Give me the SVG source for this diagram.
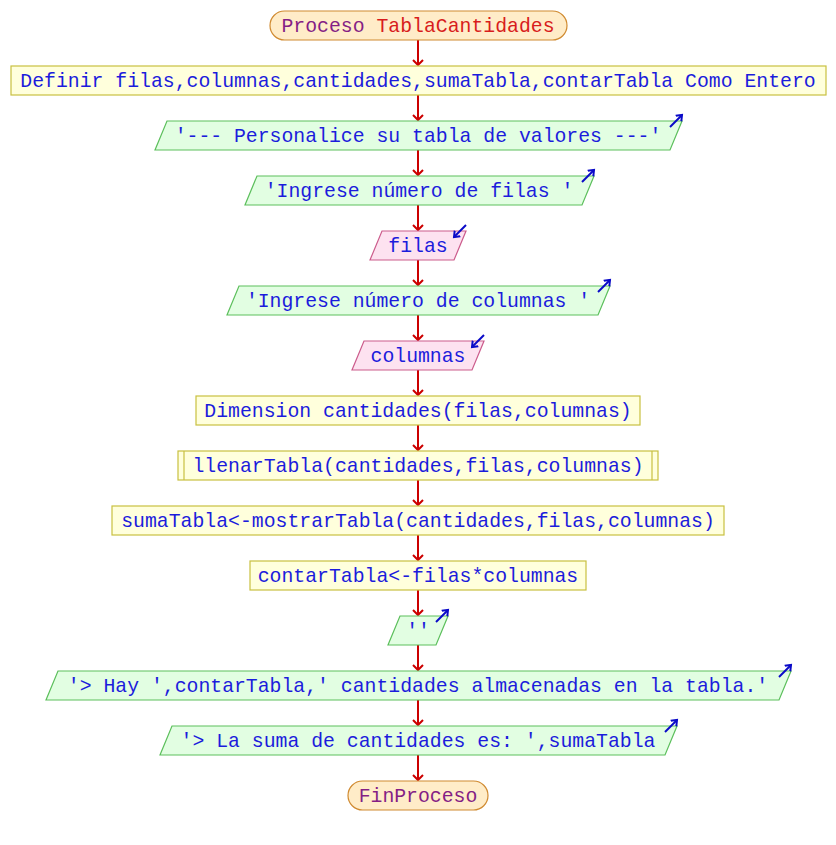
<svg xmlns="http://www.w3.org/2000/svg" width="836" height="845" viewBox="0 0 836 845">
<defs>
<style>
text{font-family:"Liberation Mono","Courier New",monospace;font-size:19.8px;fill:#1c1cdc;text-anchor:middle}
.kw{fill:#851e85}
.nm{fill:#d81c1c}
.term{fill:#ffecc8;stroke:#d08a30;stroke-width:1.2}
.proc{fill:#ffffdc;stroke:#c8c040;stroke-width:1.2}
.out{fill:#e2fee2;stroke:#5cbf5c;stroke-width:1.2}
.in{fill:#fde2f0;stroke:#cc5c8c;stroke-width:1.2}
.io{stroke:#0a0ac8;stroke-width:2;fill:none}
.con{stroke:#cc0000;stroke-width:2;fill:none}
</style>
<marker id="ah" viewBox="0 0 12 12" refX="6" refY="6" markerWidth="12" markerHeight="12" markerUnits="userSpaceOnUse" orient="auto">
<path d="M1,1 L6,6 L1,11" stroke="#cc0000" stroke-width="2" fill="none"/>
</marker>
<marker id="ab" viewBox="0 0 10 10" refX="5" refY="5" markerWidth="10" markerHeight="10" markerUnits="userSpaceOnUse" orient="auto">
<path d="M0,1 L5,5 L0,9" stroke="#0a0ac8" stroke-width="2" fill="none"/>
</marker>
</defs>
<rect width="836" height="845" fill="#ffffff"/>
<g id="connectors">
<line class="con" x1="418" y1="40" x2="418" y2="65" marker-end="url(#ah)"/>
<line class="con" x1="418" y1="95" x2="418" y2="120" marker-end="url(#ah)"/>
<line class="con" x1="418" y1="150" x2="418" y2="175" marker-end="url(#ah)"/>
<line class="con" x1="418" y1="205" x2="418" y2="230" marker-end="url(#ah)"/>
<line class="con" x1="418" y1="260" x2="418" y2="285" marker-end="url(#ah)"/>
<line class="con" x1="418" y1="315" x2="418" y2="340" marker-end="url(#ah)"/>
<line class="con" x1="418" y1="370" x2="418" y2="395" marker-end="url(#ah)"/>
<line class="con" x1="418" y1="425" x2="418" y2="450" marker-end="url(#ah)"/>
<line class="con" x1="418" y1="480" x2="418" y2="505" marker-end="url(#ah)"/>
<line class="con" x1="418" y1="535" x2="418" y2="560" marker-end="url(#ah)"/>
<line class="con" x1="418" y1="590" x2="418" y2="615" marker-end="url(#ah)"/>
<line class="con" x1="418" y1="645" x2="418" y2="670" marker-end="url(#ah)"/>
<line class="con" x1="418" y1="700" x2="418" y2="725" marker-end="url(#ah)"/>
<line class="con" x1="418" y1="755" x2="418" y2="780" marker-end="url(#ah)"/>
</g>
<g id="n_start">
<rect class="term" x="270" y="11" width="297" height="29" rx="14.5" ry="14.5"/>
<text x="418" y="32"><tspan class="kw">Proceso </tspan><tspan class="nm">TablaCantidades</tspan></text>
</g>
<g id="n_definir">
<rect class="proc" x="11" y="66" width="815" height="29"/>
<text x="418" y="87">Definir filas,columnas,cantidades,sumaTabla,contarTabla Como Entero</text>
</g>
<g id="n_out1">
<polygon class="out" points="167,121 682,121 670,150 155,150"/>
<text x="418" y="142">'--- Personalice su tabla de valores ---'</text>
<line class="io" x1="670" y1="127" x2="682" y2="115" marker-end="url(#ab)"/>
</g>
<g id="n_out2">
<polygon class="out" points="257,176 594,176 582,205 245,205"/>
<text x="419" y="197">'Ingrese número de filas '</text>
<line class="io" x1="582" y1="182" x2="594" y2="170" marker-end="url(#ab)"/>
</g>
<g id="n_in1">
<polygon class="in" points="382,231 466,231 454,260 370,260"/>
<text x="418" y="252">filas</text>
<line class="io" x1="466" y1="225" x2="454" y2="237" marker-end="url(#ab)"/>
</g>
<g id="n_out3">
<polygon class="out" points="239,286 610,286 598,315 227,315"/>
<text x="418" y="307">'Ingrese número de columnas '</text>
<line class="io" x1="598" y1="292" x2="610" y2="280" marker-end="url(#ab)"/>
</g>
<g id="n_in2">
<polygon class="in" points="364,341 484,341 472,370 352,370"/>
<text x="418" y="362">columnas</text>
<line class="io" x1="484" y1="335" x2="472" y2="347" marker-end="url(#ab)"/>
</g>
<g id="n_dim">
<rect class="proc" x="196" y="396" width="444" height="29"/>
<text x="418" y="417">Dimension cantidades(filas,columnas)</text>
</g>
<g id="n_llenar">
<rect class="proc" x="178" y="451" width="480" height="29"/>
<line x1="184" y1="451" x2="184" y2="480" stroke="#c8c040" stroke-width="1.2"/>
<line x1="652" y1="451" x2="652" y2="480" stroke="#c8c040" stroke-width="1.2"/>
<text x="418" y="472">llenarTabla(cantidades,filas,columnas)</text>
</g>
<g id="n_suma">
<rect class="proc" x="112" y="506" width="612" height="29"/>
<text x="418" y="527">sumaTabla&lt;-mostrarTabla(cantidades,filas,columnas)</text>
</g>
<g id="n_contar">
<rect class="proc" x="250" y="561" width="336" height="29"/>
<text x="418" y="582">contarTabla&lt;-filas*columnas</text>
</g>
<g id="n_out4">
<polygon class="out" points="400,616 448,616 436,645 388,645"/>
<text x="418" y="637">''</text>
<line class="io" x1="436" y1="622" x2="448" y2="610" marker-end="url(#ab)"/>
</g>
<g id="n_out5">
<polygon class="out" points="58,671 791,671 779,700 46,700"/>
<text x="418" y="692">'&gt; Hay ',contarTabla,' cantidades almacenadas en la tabla.'</text>
<line class="io" x1="779" y1="677" x2="791" y2="665" marker-end="url(#ab)"/>
</g>
<g id="n_out6">
<polygon class="out" points="172,726 677,726 665,755 160,755"/>
<text x="418" y="747">'&gt; La suma de cantidades es: ',sumaTabla</text>
<line class="io" x1="665" y1="732" x2="677" y2="720" marker-end="url(#ab)"/>
</g>
<g id="n_end">
<rect class="term" x="348" y="781" width="140" height="29" rx="14.5" ry="14.5"/>
<text class="kw" x="418" y="802">FinProceso</text>
</g>
</svg>
